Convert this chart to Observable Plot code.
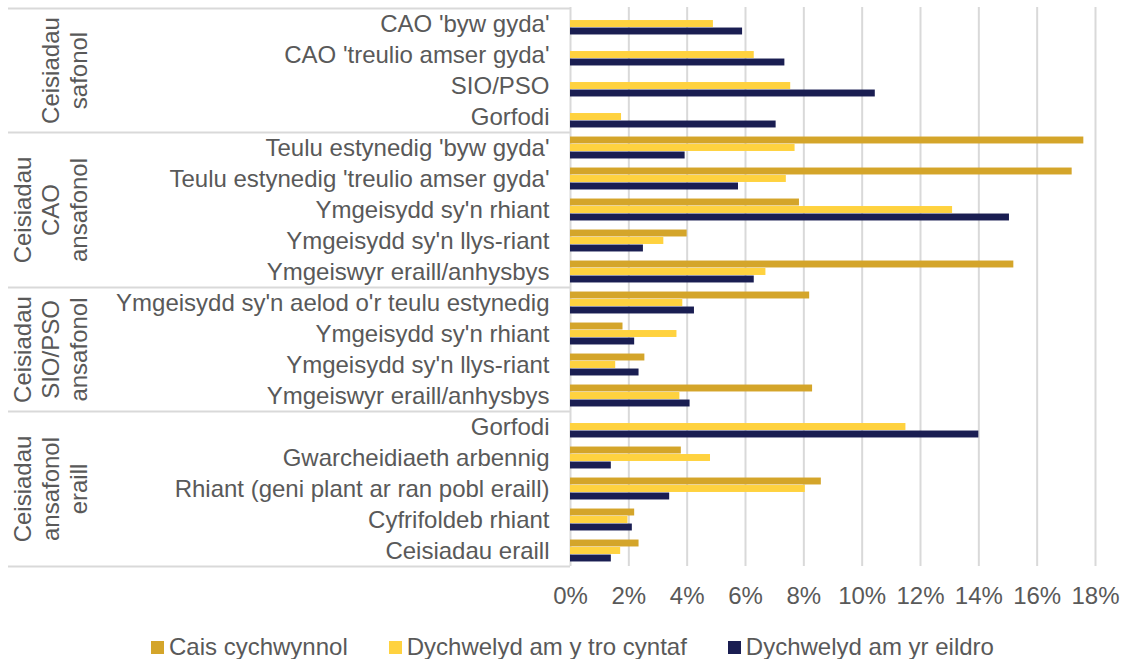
<!DOCTYPE html>
<html>
<head>
<meta charset="utf-8">
<script src="https://cdn.jsdelivr.net/npm/d3@7"></script>
<script src="https://cdn.jsdelivr.net/npm/@observablehq/plot@0.6"></script>
<style>
  html, body { margin: 0; padding: 0; background: #fff; }
  body { width: 1126px; height: 659px; overflow: hidden; font-family: "Liberation Sans", Arial, sans-serif; }
  #chart svg { display: block; }
  .lg-swatches { display: flex !important; justify-content: flex-start !important; padding-left: 151px; margin-top: 13px; min-height: 0 !important; }
  .lg-swatch { margin-right: 41px !important; font-size: 24px; color: #595959; font-family: "Liberation Sans", Arial, sans-serif; }
  .lg-swatch svg { margin-right: 5px !important; }
</style>
</head>
<body>
<div id="chart"></div>
<script>
// ---- data ----
const categories = [
  "CAO 'byw gyda'",
  "CAO 'treulio amser gyda'",
  "SIO/PSO",
  "Gorfodi",
  "Teulu estynedig 'byw gyda'",
  "Teulu estynedig 'treulio amser gyda'",
  "Ymgeisydd sy'n rhiant",
  "Ymgeisydd sy'n llys-riant",
  "Ymgeiswyr eraill/anhysbys",
  "Ymgeisydd sy'n aelod o'r teulu estynedig",
  "Ymgeisydd sy'n rhiant",
  "Ymgeisydd sy'n llys-riant",
  "Ymgeiswyr eraill/anhysbys",
  "Gorfodi",
  "Gwarcheidiaeth arbennig",
  "Rhiant (geni plant ar ran pobl eraill)",
  "Cyfrifoldeb rhiant",
  "Ceisiadau eraill"
];
const groupNames = [
  "Ceisiadau\nsafonol",
  "Ceisiadau\nCAO\nansafonol",
  "Ceisiadau\nSIO/PSO\nansafonol",
  "Ceisiadau\nansafonol\neraill"
];
const groupOf = [0,0,0,0, 1,1,1,1,1, 2,2,2,2, 3,3,3,3,3];
const series = ["Cais cychwynnol", "Dychwelyd am y tro cyntaf", "Dychwelyd am yr eildro"];
const colors = ["#D4A52A", "#FFD23F", "#1A1E52"];
// values in %
const caisCychwynnol = [null, null, null, null, 17.6, 17.2, 7.85, 4.0, 15.2, 8.2, 1.8, 2.55, 8.3, null, 3.8, 8.6, 2.2, 2.35];
const trocyntaf      = [4.9, 6.3, 7.55, 1.75, 7.7, 7.4, 13.1, 3.2, 6.7, 3.85, 3.65, 1.55, 3.75, 11.5, 4.8, 8.05, 1.97, 1.72];
const eildro         = [5.9, 7.35, 10.45, 7.05, 3.93, 5.76, 15.05, 2.5, 6.3, 4.25, 2.2, 2.35, 4.1, 14.0, 1.4, 3.4, 2.12, 1.4];
const xTicks = [0, 2, 4, 6, 8, 10, 12, 14, 16, 18];

// ---- build table ----
const seriesValues = [caisCychwynnol, trocyntaf, eildro];
const rows = categories.map((c, i) => i);
const table = [];
seriesValues.forEach((vals, k) => vals.forEach((v, i) => {
  if (v != null) table.push({row: i, series: series[k], k, value: v / 100});
}));

// ---- layout ----
const W = 1126, H = 620, mT = 7, mB = 54, mL = 570, mR = 31;
const FS = 24;
const bw = (H - mT - mB) / categories.length;
const barH = 7, gap = 0.5;
const insetFor = k => {
  const top = bw / 2 - 1.5 * barH - gap + k * (barH + gap);
  return {insetTop: top, insetBottom: bw - top - barH};
};
const textColor = "#595959", gridColor = "#D9D9D9";

// groups
const groups = groupNames.map((name, g) => {
  const idx = rows.filter(i => groupOf[i] === g);
  return {name, first: idx[0], last: idx[idx.length - 1], lines: name.split("\n").length};
});

const bars = series.map((s, k) => Plot.barX(table.filter(d => d.k === k), {
  x: "value", y: "row", fill: "series", ...insetFor(k)
}));

const sepStyle = {stroke: gridColor, strokeWidth: 2, insetLeft: -(mL - 8), insetRight: W - mL - mR};
const separators = [
  Plot.ruleY(groups.map(g => g.first), {...sepStyle, dy: -bw / 2}),
  Plot.ruleY([groups[groups.length - 1].last], {...sepStyle, dy: bw / 2})
];

const lineStep = 28;
const groupLabels = groups.map(g => {
  const mid = Math.floor((g.first + g.last) / 2);
  const frac = (g.first + g.last) / 2 - mid;
  const cx = 78 - (g.lines - 1) * lineStep / 2;
  return Plot.text([g], {
    y: () => mid, text: "name", frameAnchor: "left", dx: -(mL - cx), dy: frac * bw,
    rotate: -90, textAnchor: "middle", lineHeight: lineStep / FS, fill: textColor, fontSize: FS
  });
});

const plot = Plot.plot({
  width: W, height: H,
  marginTop: mT, marginBottom: mB, marginLeft: mL, marginRight: mR,
  style: {fontFamily: "'Liberation Sans', Arial, sans-serif", fontSize: FS + "px", color: textColor, background: "#fff"},
  x: {domain: [0, 0.18], ticks: xTicks.map(t => t / 100), tickFormat: d3.format(".0%"), tickSize: 0, tickPadding: 20, label: null},
  y: {domain: rows, padding: 0, tickSize: 0, tickPadding: 21, tickFormat: i => categories[i], label: null},
  color: {domain: series, range: colors},
  marks: [
    Plot.ruleX(xTicks.slice(1).map(t => t / 100), {stroke: gridColor, strokeWidth: 2}),
    Plot.ruleX([0], {stroke: gridColor, strokeWidth: 2}),
    ...bars,
    ...separators,
    ...groupLabels
  ]
});
document.getElementById("chart").appendChild(plot);

const legend = Plot.legend({
  color: {domain: series, range: colors},
  swatchWidth: 13, swatchHeight: 13, className: "lg"
});
document.getElementById("chart").appendChild(legend);
</script>
</body>
</html>
